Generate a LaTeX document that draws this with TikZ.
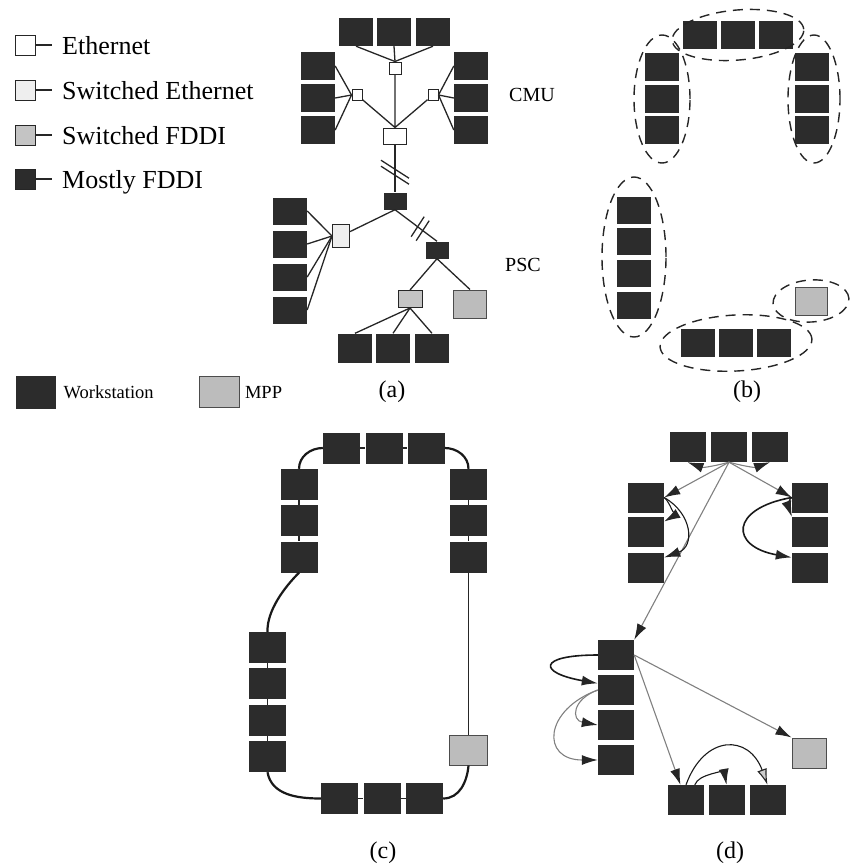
\documentclass[tikz,border=0pt]{standalone}
\usepackage{fontspec}
\setmainfont{Liberation Serif}
\usepackage{tikz}
\usetikzlibrary{arrows.meta,calc,positioning}
\definecolor{wscolor}{RGB}{44,44,44}
\definecolor{mppcolor}{RGB}{188,188,188}
\definecolor{sethcolor}{RGB}{238,238,238}
\definecolor{sfddicolor}{RGB}{196,196,196}

\begin{document}
\begin{tikzpicture}[x=1pt, y=1pt,
        ws/.style={rectangle, fill=wscolor, inner sep=0pt, minimum width=34pt, minimum height=28pt},
        wsc/.style={ws, minimum width=37pt, minimum height=31pt},
        wsd/.style={ws, minimum width=36pt, minimum height=30pt},
        mpp/.style={rectangle, fill=mppcolor, draw=black!70, line width=1pt, inner sep=0pt, minimum width=33pt, minimum height=28pt},
        hub/.style={rectangle, draw=black!85, line width=1pt, fill=white, inner sep=0pt, minimum width=12pt, minimum height=12pt},
        link/.style={line width=1.3pt, black!85},
        grp/.style={line width=1.4pt, dash pattern=on 10pt off 7pt, black!85},
        ring/.style={line width=2.2pt, black!90},
        arr/.style={-{Latex[length=16pt, width=10pt, color=black!85]}, line width=1.1pt, black!50},
        arrk/.style={arr, black!90},
        legtext/.style={anchor=west, inner xsep=10pt, text depth=0pt, font=\fontsize{26}{30}\selectfont},
        smalltext/.style={text depth=0pt, font=\fontsize{18.5}{22}\selectfont},
        panellabel/.style={font=\fontsize{24}{28}\selectfont}
    ]
    \useasboundingbox (0,0) rectangle (851,-865);

    % legend
    \node[hub, minimum size=20pt] (lg1) at (25,-45) {};
    \node[hub, minimum size=20pt, fill=sethcolor] (lg2) at (25,-90) {};
    \node[hub, minimum size=20pt, fill=sfddicolor] (lg3) at (25,-135) {};
    \node[hub, minimum size=20pt, fill=wscolor] (lg4) at (25,-179) {};
    \node[legtext] (lt1) at (52,-45) {Ethernet};
    \node[legtext] (lt2) at (52,-90) {Switched Ethernet};
    \node[legtext] (lt3) at (52,-135) {Switched FDDI};
    \node[legtext] (lt4) at (52,-179) {Mostly FDDI};
    \foreach \i in {1,...,4} \draw[link] (lg\i) -- (lt\i);

    \node[ws, minimum width=40pt, minimum height=33pt] (lgws) at (36,-392) {};
    \node[smalltext, right=4pt of lgws] (lgwst) {Workstation};
    \node[mpp, minimum width=40pt, minimum height=31pt] (lgmpp) at (219,-392) {};
    \node[smalltext, right=2pt of lgmpp] (lgmppt) {MPP};

    % (a) network
    \foreach \x [count=\i] in {356,394,433} \node[ws] (a-t\i) at (\x,-32) {};
    \foreach \y [count=\i] in {66,98,130} {
        \node[ws] (a-l\i) at (318,-\y) {};
        \node[ws] (a-r\i) at (471,-\y) {};
    }
    \node[hub] (ht) at (395,-68) {};
    \node[hub, minimum width=10pt, minimum height=11pt] (hl) at (357,-95) {};
    \node[hub, minimum width=10pt, minimum height=11pt] (hr) at (433,-95) {};
    \node[hub, minimum width=23pt, minimum height=16pt] (hc) at (395,-136) {};
    \foreach \i in {1,2,3} {
        \draw[link] (ht.north) -- (a-t\i.south);
        \draw[link] (hl.west) -- (a-l\i.east);
        \draw[link] (hr.east) -- (a-r\i.west);
    }
    \draw[link] (ht) -- (hc) (hl) -- (hc.north) (hr) -- (hc.north);

    \node[ws, minimum width=23pt, minimum height=17pt] (f1) at (395,-201) {};
    \node[hub, fill=sethcolor, minimum width=17pt, minimum height=23pt] (se) at (341,-236) {};
    \node[ws, minimum width=23pt, minimum height=17pt] (f2) at (437,-250) {};
    \node[hub, fill=sfddicolor, minimum width=24pt, minimum height=17pt] (sf) at (410,-299) {};
    \node[mpp] (a-m) at (470,-304) {};
    \foreach \y [count=\i] in {211,244,277,310} \node[ws, minimum height=27pt] (a-p\i) at (290,-\y) {};
    \foreach \x [count=\i] in {355,393,432} \node[ws, minimum height=29pt] (a-b\i) at (\x,-348) {};
    \draw[link] (hc) -- (f1);
    \draw[link] (f1.south) -- (se);
    \draw[link] (f1.south) -- (f2.north);
    \foreach \i in {1,...,4} \draw[link] (se.west) -- (a-p\i.east);
    \draw[link] (f2.south) -- (sf.north) (f2.south) -- (a-m.north);
    \foreach \i in {1,2,3} \draw[link] (sf.south) -- (a-b\i.north);
    \coordinate (k1) at ($(hc.south)!0.58!(f1.north)$);
    \coordinate (k2) at ($(f1.south)!0.6!(f2.north)$);
    \draw[link] ($(k1)+(-14,12)$) -- +(28,-18) ($(k1)+(-14,6)$) -- +(28,-18);
    \draw[link] ($(k2)+(-9,-8)$) -- +(13,20) ($(k2)+(-4,-12)$) -- +(13,20);
    \node[font=\fontsize{20}{24}\selectfont] (cmu) at (532,-95) {CMU};
    \node[font=\fontsize{20}{24}\selectfont] (psc) at (523,-265) {PSC};
    \node[panellabel] (capa) at (392,-392) {(a)};

    % (b) clusters
    \foreach \x [count=\i] in {700,738,776} {
        \node[ws] (b-t\i) at (\x,-35) {};
        \node[ws] (b-b\i) at (\x-2,-343) {};
    }
    \foreach \y [count=\i] in {67,99,130} {
        \node[ws] (b-l\i) at (662,-\y) {};
        \node[ws] (b-r\i) at (812,-\y) {};
    }
    \foreach \y [count=\i] in {210,241,273,305} \node[ws, minimum height=27pt] (b-p\i) at (634,-\y) {};
    \node[mpp, minimum width=32pt] (b-m) at (811,-301) {};
    \draw[grp, rotate around={5:(b-t2.center)}] (b-t2) ellipse [x radius=66pt, y radius=25pt];
    \draw[grp] (b-l2) ellipse [x radius=28pt, y radius=64pt];
    \draw[grp] ($(b-r2)+(2,0)$) ellipse [x radius=26pt, y radius=64pt];
    \draw[grp] ($(b-p2)!0.5!(b-p3)$) ellipse [x radius=32pt, y radius=80pt];
    \draw[grp, rotate around={3:(b-b2.center)}] (b-b2) ellipse [x radius=76pt, y radius=28pt];
    \draw[grp, rotate around={4:(b-m.center)}] (b-m) ellipse [x radius=38pt, y radius=21pt];
    \node[panellabel] (capb) at (747,-392) {(b)};

    % (c) ring
    \foreach \x [count=\i] in {341.5,384,426} \node[wsc] (c-t\i) at (\x,-448) {};
    \foreach \x [count=\i] in {339.5,382,424.5} \node[wsc] (c-b\i) at (\x,-798.5) {};
    \foreach \y [count=\i] in {484.5,520.5,557} {
        \node[wsc] (c-l\i) at (299,-\y) {};
        \node[wsc] (c-r\i) at (468.5,-\y) {};
    }
    \foreach \y [count=\i] in {647.5,683.5,720.5,756.5} \node[wsc] (c-p\i) at (267.5,-\y) {};
    \node[mpp, minimum width=38pt, minimum height=30pt] (c-m) at (468.5,-750) {};
    \foreach \i/\j in {1/2,2/3} {
        \draw[link] (c-t\i) -- (c-t\j);
        \draw[link] (c-b\i) -- (c-b\j);
        \draw[link] (c-l\i) -- (c-l\j);
        \draw[link] (c-r\i) -- (c-r\j);
    }
    \foreach \i/\j in {1/2,2/3,3/4} \draw[link] (c-p\i) -- (c-p\j);
    \draw[ring] (c-t1.west) to[out=180, in=90] (c-l1.north);
    \draw[ring] (c-t3.east) to[out=0, in=90] (c-r1.north);
    \draw[ring] (c-l3.south) to[out=-135, in=92, looseness=0.8] (c-p1.north);
    \draw[link] (c-r3) -- (c-m);
    \draw[ring] (c-p4.south) to[out=-80, in=180] (c-b1.west);
    \draw[ring] (c-m.south) to[out=-95, in=0] (c-b3.east);
    \node[panellabel] (capc) at (383,-853) {(c)};

    % (d) broadcast tree
    \foreach \x [count=\i] in {687.5,729,770} \node[wsd] (d-t\i) at (\x,-447) {};
    \foreach \x [count=\i] in {686,726.5,767.5} \node[wsd] (d-b\i) at (\x,-800) {};
    \foreach \y [count=\i] in {497.5,532,568} {
        \node[wsd] (d-l\i) at (646,-\y) {};
        \node[wsd] (d-r\i) at (810,-\y) {};
    }
    \foreach \y [count=\i] in {655,690,725,760} \node[wsd] (d-p\i) at (616,-\y) {};
    \node[mpp, minimum width=34pt, minimum height=30pt] (d-m) at (809,-753) {};
    \draw[arr] (d-t2.south) to[out=195, in=-20] (d-t1.south);
    \draw[arr] (d-t2.south) to[out=-15, in=200] (d-t3.south);
    \draw[arr] (d-t2.south) -- (d-l1.east);
    \draw[arr] (d-t2.south) -- (d-r1.west);
    \draw[arr] (d-t2.south) -- (d-p1.north east);
    \draw[arrk] (d-l1.east) to[out=-40, in=30] (d-l2.30);
    \draw[arrk] (d-l1.east) to[out=-30, in=20, looseness=1.4] (d-l3.30);
    \draw[arrk, line width=1.6pt] (d-r1.west) to[out=190, in=170, looseness=2.7] (d-r3.150);
    \draw[arrk] (d-r1.west) to[out=220, in=110] (d-r2.140);
    \draw[arrk, line width=1.6pt] (d-p1.west) to[out=180, in=170, looseness=5.5] (d-p2.160);
    \draw[arr] (d-p2.west) to[out=200, in=170, looseness=2] (d-p3.west);
    \draw[arr] (d-p2.west) to[out=200, in=180, looseness=2.1] (d-p4.west);
    \draw[arr] (d-p1.east) -- (d-b1.110);
    \draw[arr] (d-p1.east) -- (d-m.north west);
    \draw[arrk, -{Latex[length=16pt, width=10pt, color=black!85, fill=black!20]}] (d-b1.north) to[out=70, in=110, looseness=1.7] (d-b3.north);
    \draw[arrk] (d-b1.60) to[out=70, in=100] (d-b2.north);
    \node[panellabel] (capd) at (730,-853) {(d)};
\end{tikzpicture}
\end{document}
